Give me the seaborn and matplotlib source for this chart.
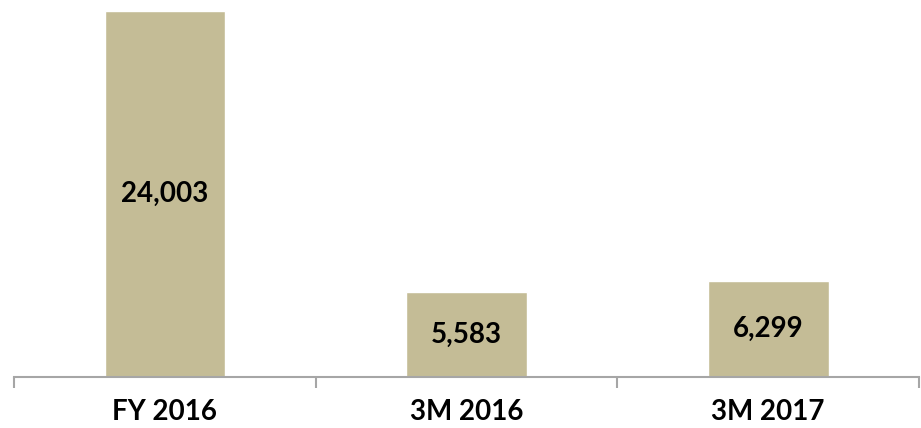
import matplotlib.pyplot as plt
import pandas as pd
import seaborn as sns

# Chart values
periods = ['FY 2016', '3M 2016', '3M 2017']
values = [24003, 5583, 6299]
value_labels = ['24,003', '5,583', '6,299']

bar_color = '#C4BC96'
axis_color = '#A6A6A6'

sns.set_style('white')
plt.rcParams['font.family'] = ['Lato', 'DejaVu Sans']

df = pd.DataFrame({'period': periods, 'value': values})

fig = plt.figure(figsize=(9.21, 4.28), dpi=100)
ax = fig.add_axes([14 / 921, 1 - 377 / 428, (919 - 14) / 921, (377 - 11) / 428])

sns.barplot(data=df, x='period', y='value', color=bar_color, width=0.4,
            saturation=1, ax=ax)

ax.set_xlim(-0.5, len(periods) - 0.5)
ax.set_ylim(0, values[0])

# Value labels centred inside each bar
for i, (v, lab) in enumerate(zip(values, value_labels)):
    ax.text(i, v / 2, lab, ha='center', va='center', fontsize=20,
            fontweight='bold', color='black')

# Axis styling
for side in ['top', 'right', 'left']:
    ax.spines[side].set_visible(False)
ax.spines['bottom'].set_color(axis_color)
ax.spines['bottom'].set_linewidth(1.5)

ax.set_yticks([])
ax.set_xlabel('')
ax.set_ylabel('')
ax.set_xticks(range(len(periods)))
ax.set_xticklabels(periods, fontsize=20, fontweight='bold', color='black')
ax.tick_params(axis='x', which='major', length=0, pad=16)
ax.set_xticks([-0.5, 0.5, 1.5, 2.5], minor=True)
ax.tick_params(axis='x', which='minor', length=8, width=1.5, color=axis_color,
               direction='out', bottom=True)

fig.savefig('out.png', dpi=100)
